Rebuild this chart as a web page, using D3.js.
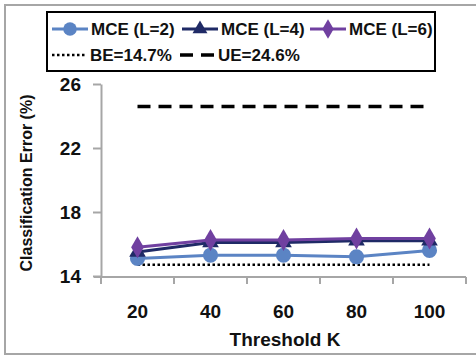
<!DOCTYPE html>
<html>
<head>
<meta charset="utf-8">
<script src="https://cdn.jsdelivr.net/npm/d3@7"></script>
<style>
  body { margin: 0; background: #fff; }
  svg text { font-family: "Liberation Sans", Arial, sans-serif; font-weight: bold; }
</style>
</head>
<body>
<svg id="chart" width="476" height="356"></svg>
<script>
// data
const thresholds = ["20", "40", "60", "80", "100"];
const mceL2 = [15.1, 15.3, 15.3, 15.2, 15.6];
const mceL4 = [15.5, 16.1, 16.1, 16.2, 16.2];
const mceL6 = [15.8, 16.25, 16.25, 16.35, 16.35];
const baselineBE = 14.7;
const baselineUE = 24.6;
const yTicks = [14, 18, 22, 26];

let svg = d3.select("#chart");

// outer frame
svg.append("rect")
    .attr("x", 5).attr("y", 5)
    .attr("width", 480).attr("height", 349)
    .attr("fill", "none")
    .attr("stroke", "#a6a6a6")
    .attr("stroke-width", 2);

let x = d3.scaleBand().domain(thresholds).range([101, 466]).padding(0);
let y = d3.scaleLinear().domain([14, 26]).range([276, 84]);
let cx = d => x(d) + x.bandwidth() / 2;

// y axis
let yAxis = svg.append("g")
    .attr("transform", "translate(101,0)")
    .call(d3.axisLeft(y).tickValues(yTicks).tickSize(8).tickSizeOuter(0).tickPadding(12));
yAxis.select(".domain").attr("stroke", "#a6a6a6").attr("stroke-width", 2);
yAxis.selectAll(".tick line").attr("stroke", "#a6a6a6").attr("stroke-width", 2);
yAxis.selectAll(".tick text")
    .attr("font-size", 19).attr("fill", "#111")
    .style("font-family", "'Liberation Sans', Arial, sans-serif");

// x axis (ticks between categories)
svg.append("line")
    .attr("x1", 94).attr("x2", 466)
    .attr("y1", 277).attr("y2", 277)
    .attr("stroke", "#a6a6a6").attr("stroke-width", 2);
let bounds = thresholds.map(d => x(d)).concat([x.range()[1]]);
svg.append("g").selectAll("line")
    .data(bounds)
    .enter().append("line")
    .attr("x1", d => d).attr("x2", d => d)
    .attr("y1", 277).attr("y2", 284)
    .attr("stroke", "#a6a6a6").attr("stroke-width", 2);
svg.append("g").selectAll("text")
    .data(thresholds)
    .enter().append("text")
    .attr("x", d => cx(d))
    .attr("y", 318)
    .attr("text-anchor", "middle")
    .attr("font-size", 19)
    .attr("fill", "#111")
    .text(d => d);

// axis titles
svg.append("text")
    .attr("x", 285).attr("y", 346)
    .attr("text-anchor", "middle")
    .attr("font-size", 19)
    .attr("fill", "#111")
    .text("Threshold K");
svg.append("text")
    .attr("transform", "translate(32,183) rotate(-90)")
    .attr("text-anchor", "middle")
    .attr("font-size", 16)
    .attr("fill", "#111")
    .text("Classification Error (%)");

// baselines
let line = d3.line().x(d => cx(d[0])).y(d => y(d[1]));
svg.append("path")
    .datum(thresholds.map(t => [t, baselineBE]))
    .attr("d", line)
    .attr("fill", "none")
    .attr("stroke", "#000")
    .attr("stroke-width", 2.5)
    .attr("stroke-dasharray", "2.5,2.5");
svg.append("path")
    .datum(thresholds.map(t => [t, baselineUE]))
    .attr("d", line)
    .attr("fill", "none")
    .attr("stroke", "#000")
    .attr("stroke-width", 3.5)
    .attr("stroke-dasharray", "13,8");

let series = [
    {name: "MCE (L=2)", values: mceL2, color: "#5b84c4", marker: d3.symbolCircle, size: 180},
    {name: "MCE (L=4)", values: mceL4, color: "#1f2a66", marker: d3.symbolTriangle, size: 120},
    {name: "MCE (L=6)", values: mceL6, color: "#7040a0", marker: d3.symbolDiamond, size: 140}
];

series.forEach(s => {
    let pts = thresholds.map((t, i) => [t, s.values[i]]);
    svg.append("path")
        .datum(pts)
        .attr("d", line)
        .attr("fill", "none")
        .attr("stroke", s.color)
        .attr("stroke-width", 3);
    svg.append("g").selectAll("path")
        .data(pts)
        .enter().append("path")
        .attr("d", d3.symbol().type(s.marker).size(s.size))
        .attr("transform", d => `translate(${cx(d[0])},${y(d[1])})`)
        .attr("fill", s.color);
});

// legend
let legend = svg.append("g");
legend.append("rect")
    .attr("x", 47).attr("y", 12)
    .attr("width", 388).attr("height", 59)
    .attr("fill", "#fff")
    .attr("stroke", "#000")
    .attr("stroke-width", 2);

let legendRow1 = [
    {s: series[0], x0: 52},
    {s: series[1], x0: 182},
    {s: series[2], x0: 310}
];
legendRow1.forEach(item => {
    let g = legend.append("g").attr("transform", `translate(${item.x0},29)`);
    g.append("line")
        .attr("x1", 0).attr("x2", 36)
        .attr("stroke", item.s.color).attr("stroke-width", 3);
    g.append("path")
        .attr("d", d3.symbol().type(item.s.marker).size(item.s.size * 0.8))
        .attr("transform", "translate(18,0)")
        .attr("fill", item.s.color);
    g.append("text")
        .attr("x", 39).attr("y", 6)
        .attr("font-size", 17)
        .attr("fill", "#111")
        .text(item.s.name);
});

let legendRow2 = [
    {name: "BE=14.7%", dash: "2.5,2.5", width: 2.5, x0: 52},
    {name: "UE=24.6%", dash: "13,8", width: 3.5, x0: 180}
];
legendRow2.forEach(item => {
    let g = legend.append("g").attr("transform", `translate(${item.x0},55)`);
    g.append("line")
        .attr("x1", 0).attr("x2", 34)
        .attr("stroke", "#000")
        .attr("stroke-width", item.width)
        .attr("stroke-dasharray", item.dash);
    g.append("text")
        .attr("x", 38).attr("y", 6)
        .attr("font-size", 17)
        .attr("fill", "#111")
        .text(item.name);
});
</script>
</body>
</html>
